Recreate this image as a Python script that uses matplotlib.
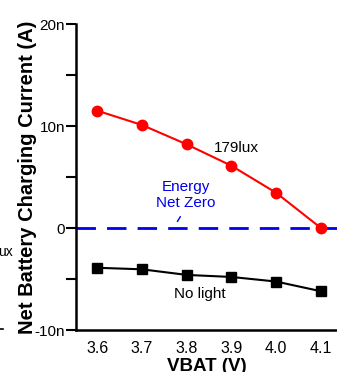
import matplotlib
matplotlib.use("Agg")
from matplotlib import pyplot as plt

vbat = [3.6, 3.7, 3.8, 3.9, 4.0, 4.1]
lux179 = [11.5, 10.1, 8.2, 6.1, 3.45, 0.0]
no_light = [-3.9, -4.05, -4.6, -4.8, -5.25, -6.2]
y_ticks = [-10, 0, 10, 20]
y_labels = ['-10n', '0', '10n', '20n']
x_labels = ['3.6', '3.7', '3.8', '3.9', '4.0', '4.1']

plt.rcParams['font.family'] = ['Liberation Sans', 'DejaVu Sans']

fig = plt.figure(figsize=(3.37, 3.72), dpi=100)
ax = fig.add_axes([76/337, 1 - 330/372, 1 - 76/337, 306/372])

ax.axhline(0, color='#0000ee', lw=2, dashes=(7, 4), zorder=1)
ax.plot(vbat, lux179, color='red', lw=1.5, marker='o', markersize=7.5, zorder=3)
ax.plot(vbat, no_light, color='black', lw=1.5, marker='s', markersize=6.5, zorder=3)

ax.set_xlim(3.5525, 4.136)
ax.set_ylim(-10, 20)
ax.set_yticks(y_ticks)
ax.set_yticklabels(y_labels)
ax.set_yticks([-5, 5, 15], minor=True)
ax.set_xticks(vbat)
ax.set_xticklabels(x_labels)
ax.tick_params(axis='y', which='both', direction='out', length=7, width=1.5,
               labelsize=11, pad=1)
ax.tick_params(axis='x', length=0, labelsize=11.5, pad=8)

for s in ['top', 'right']:
    ax.spines[s].set_visible(False)
ax.spines['left'].set_linewidth(1.8)
ax.spines['bottom'].set_linewidth(1.8)

ax.set_xlabel('VBAT (V)', fontsize=13.5, fontweight='bold', labelpad=1.5)
ax.set_ylabel('Net Battery Charging Current (A)', fontsize=14.5,
              fontweight='bold')
ax.yaxis.set_label_coords(-0.149, 0.5)

ax.text(3.912, 7.85, '179lux', fontsize=11, ha='center', va='center')
ax.text(3.83, -6.45, 'No light', fontsize=11, ha='center', va='center')
ax.text(3.798, 3.25, 'Energy\nNet Zero', fontsize=11, color='#0000ee',
        ha='center', va='center', linespacing=1.15)
ax.annotate('', xy=(3.776, 0.4), xytext=(3.789, 1.35),
            arrowprops=dict(arrowstyle='-', color='#0000ee', lw=1))

# fragments of neighbouring panels
fig.text(-0.005, 1 - 252/372, 'ux', fontsize=10, va='center', ha='left')
fig.lines.append(plt.Line2D([0, 3/337], [1 - 329/372, 1 - 329/372],
                            transform=fig.transFigure, color='black', lw=1.2))
fig.text(0.0, 1.0 + 2.5/372, 'rging capacity', fontsize=11,
         fontweight='bold', va='baseline', ha='left')

fig.savefig('out.png', dpi=100)
